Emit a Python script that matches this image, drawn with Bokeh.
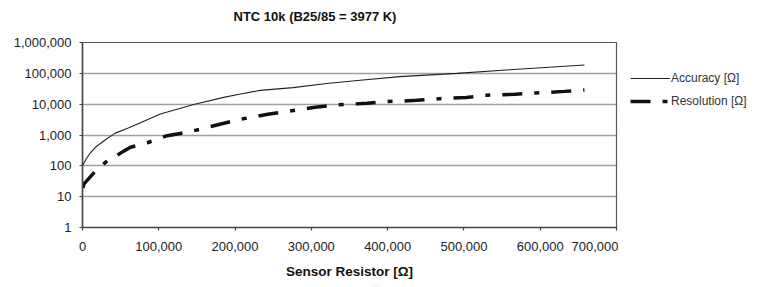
from bokeh.plotting import figure
from bokeh.layouts import row
from bokeh.models import (ColumnDataSource, FixedTicker, NumeralTickFormatter,
                          Legend, LegendItem, Range1d)
from bokeh.embed import file_html
from bokeh.resources import INLINE

# ---- data ----
acc_resistor = [0, 5000, 10000, 17000, 30000, 43000, 60000, 76000, 102000, 147000,
                185000, 207000, 233000, 276000, 320000, 364000, 416000, 491000, 560000, 658000]
acc_ohm = [100, 170, 260, 400, 700, 1150, 1700, 2500, 4800, 10000,
           16600, 21300, 28000, 34500, 47000, 60000, 78000, 100000, 130000, 186000]

res_resistor = [500, 2000, 14000, 18000, 31000, 54000, 63000, 85000, 111000, 128000,
                150000, 203000, 220000, 243000, 266000, 285000, 305000, 333000, 351000,
                373000, 399000, 419000, 438000, 464000, 482000, 503000, 530000, 545000,
                567000, 593000, 610000, 632000, 658000]
res_ohm = [19, 26, 56, 73, 135, 300, 400, 560, 950, 1120,
           1450, 3100, 3700, 4700, 5700, 6700, 7900, 9400, 10000,
           10700, 12300, 12600, 13300, 14800, 15800, 16500, 19600, 20000,
           21000, 23000, 24000, 26000, 29000]

x_ticks = [0, 100000, 200000, 300000, 400000, 500000, 600000, 700000]
y_ticks = [1, 10, 100, 1000, 10000, 100000, 1000000]

title_text = "NTC 10k (B25/85 = 3977 K)"
x_label = "Sensor Resistor [Ω]"
series_names = ["Accuracy [Ω]", "Resolution [Ω]"]

FONT = "Liberation Sans"
H = 285

ACC_STYLE = dict(line_color="#222222", line_width=1.1)
RES_STYLE = dict(line_color="#111111", line_width=3.5, line_dash="20 12 5 12")

p = figure(width=618, height=H, output_backend="svg", toolbar_location=None,
           y_axis_type="log", x_range=Range1d(0, 700000), y_range=Range1d(1, 1000000),
           min_border_left=82, min_border_right=2, min_border_top=42,
           min_border_bottom=58, title=title_text)

p.title.text_font = FONT
p.title.text_font_size = "13px"
p.title.text_font_style = "bold"
p.title.text_color = "#111111"
p.title.align = "left"
p.title.offset = 151
p.title.standoff = 0
p.title.padding = dict(left=0, right=0, top=5, bottom=19)

p.background_fill_color = "white"
p.border_fill_color = "white"
p.outline_line_color = "#555555"
p.outline_line_width = 1.2

p.xgrid.grid_line_color = None
p.ygrid.grid_line_color = "#a0a0a0"
p.ygrid.grid_line_width = 1.5

p.xaxis.ticker = FixedTicker(ticks=x_ticks)
p.yaxis.ticker = FixedTicker(ticks=y_ticks)
p.xaxis.formatter = NumeralTickFormatter(format="0,0")
p.yaxis.formatter = NumeralTickFormatter(format="0,0")

for ax in (p.xaxis, p.yaxis):
    ax.axis_line_color = "#444444"
    ax.axis_line_width = 1.5
    ax.major_tick_line_color = "#444444"
    ax.major_tick_line_width = 1.2
    ax.major_tick_in = 0
    ax.major_tick_out = 3
    ax.minor_tick_line_color = None
    ax.major_label_text_font = FONT
    ax.major_label_text_font_size = "13px"
    ax.major_label_text_color = "#222222"

p.xaxis.major_label_standoff = 11
p.yaxis.major_label_standoff = 8

p.xaxis.axis_label = x_label
p.xaxis.axis_label_text_font = FONT
p.xaxis.axis_label_text_font_size = "13.5px"
p.xaxis.axis_label_text_font_style = "bold"
p.xaxis.axis_label_text_color = "#111111"
p.xaxis.axis_label_standoff = 10

acc_src = ColumnDataSource(data=dict(x=acc_resistor, y=acc_ohm))
res_src = ColumnDataSource(data=dict(x=res_resistor, y=res_ohm))

p.line("x", "y", source=acc_src, **ACC_STYLE)
p.line("x", "y", source=res_src, **RES_STYLE)

# ---- legend panel to the right of the plot area ----
lp = figure(width=142, height=H, output_backend="svg", toolbar_location=None,
            x_range=Range1d(0, 1), y_range=Range1d(0, 1),
            x_axis_location=None, y_axis_location=None,
            min_border=0, outline_line_color=None)
lp.grid.grid_line_color = None
lp.background_fill_color = "white"
lp.border_fill_color = "white"
# same series drawn out of this panel's view, only their legend samples show
l_acc = lp.line("x", "y", source=acc_src, **ACC_STYLE)
l_res = lp.line("x", "y", source=res_src, **RES_STYLE)

legend = Legend(items=[LegendItem(label=series_names[0], renderers=[l_acc]),
                       LegendItem(label=series_names[1], renderers=[l_res])],
                location=(12, 116))
legend.border_line_color = None
legend.background_fill_alpha = 0
legend.label_text_font = FONT
legend.label_text_font_size = "12px"
legend.label_text_color = "#333333"
legend.glyph_width = 40
legend.glyph_height = 20
legend.label_height = 20
legend.label_standoff = 1
legend.spacing = 3
legend.padding = 0
legend.margin = 0
lp.add_layout(legend)

layout = row(p, lp)
open("out.html", "w").write(file_html(layout, INLINE))
